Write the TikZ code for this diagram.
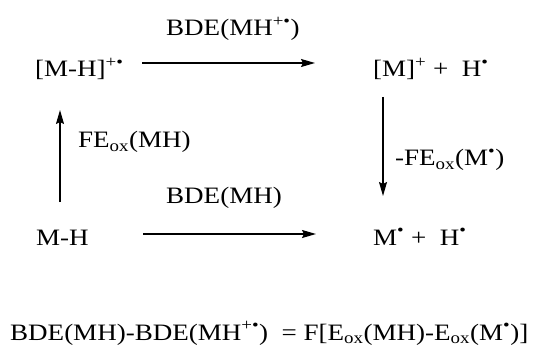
\documentclass[tikz,border=0pt]{standalone}
\usepackage{fontspec}
\setmainfont[FakeStretch=1.15]{Liberation Serif}
\usetikzlibrary{arrows.meta}
\begin{document}
\begin{tikzpicture}[x=1pt,y=-1pt,
  txt/.style={anchor=base west,inner sep=0pt,font=\fontsize{23.5}{27}\selectfont},
  rxn/.style={line width=1.4pt,-{Stealth[length=14pt,width=8pt,inset=2pt]}}]
\useasboundingbox (0,0) rectangle (534,347);
% species
\node[txt] (mhc) at (35,77) {[M-H]\textsuperscript{+•}};
\node[txt] (mpl) at (373,77) {[M]\textsuperscript{+} +\ \ H\textsuperscript{•}};
\node[txt] (mh) at (36,245) {M-H};
\node[txt] (mrad) at (373,245) {M\textsuperscript{•} +\ \ H\textsuperscript{•}};
% arrow end points
\coordinate (t1) at (142,63);
\coordinate (t2) at (315,63);
\coordinate (b1) at (143,234);
\coordinate (b2) at (316,234);
\coordinate (l1) at (60,202);
\coordinate (l2) at (60,110);
\coordinate (r1) at (383,97);
\coordinate (r2) at (383,196);
\draw[rxn] (t1) -- (t2);
\draw[rxn] (b1) -- (b2);
\draw[rxn] (l1) -- (l2);
\draw[rxn] (r1) -- (r2);
% labels
\node[txt] (lt) at (166,36) {BDE(MH\textsuperscript{+•})};
\node[txt] (lb) at (166,203) {BDE(MH)};
\node[txt] (ll) at (78,148) {FE\textsubscript{ox}(MH)};
\node[txt] (lr) at (395,166) {-FE\textsubscript{ox}(M\textsuperscript{•})};
% equation
\node[txt] (eq) at (10,340) {BDE(MH)-BDE(MH\textsuperscript{+•})\ \ = F[E\textsubscript{ox}(MH)-E\textsubscript{ox}(M\textsuperscript{•})]};
\end{tikzpicture}
\end{document}
